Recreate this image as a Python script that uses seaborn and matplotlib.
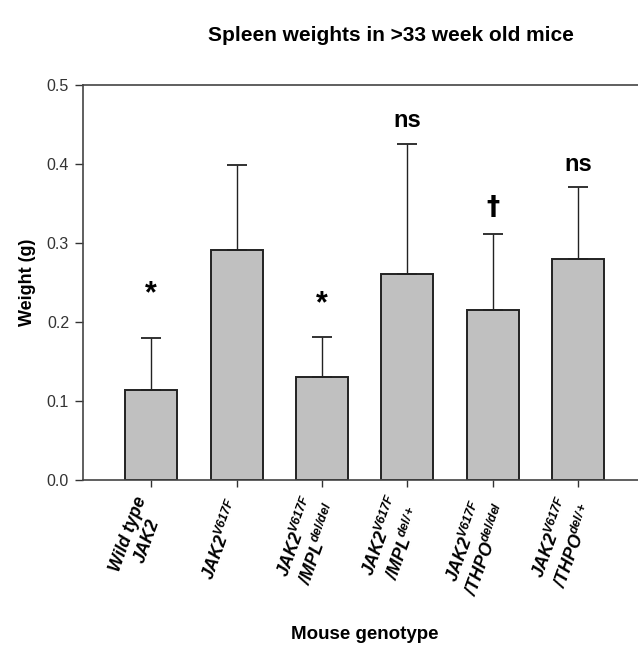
import matplotlib
matplotlib.use("Agg")
import matplotlib.pyplot as plt
import seaborn as sns
import numpy as np
import pandas as pd

genotypes = ["Wild type\nJAK2",
             "JAK2$^{V617F}$",
             "JAK2$^{V617F}$\n/MPL$^{del/del}$",
             "JAK2$^{V617F}$\n/MPL$^{del/+}$",
             "JAK2$^{V617F}$\n/THPO$^{del/del}$",
             "JAK2$^{V617F}$\n/THPO$^{del/+}$"]
mean_weight = [0.114, 0.291, 0.130, 0.261, 0.215, 0.280]
err_top = [0.180, 0.399, 0.181, 0.426, 0.312, 0.371]
sig_labels = ["*", "", "*", "ns", "\u2020", "ns"]
sig_y = [0.235, None, 0.222, 0.455, 0.345, 0.40]

sns.set_style("white")
plt.rcParams['font.family'] = ['Liberation Sans', 'DejaVu Sans']
plt.rcParams['text.color'] = 'black'
plt.rcParams['mathtext.fontset'] = 'custom'
plt.rcParams['mathtext.it'] = 'Liberation Sans:italic:bold'
plt.rcParams['mathtext.rm'] = 'Liberation Sans:italic:bold'
plt.rcParams['mathtext.bf'] = 'Liberation Sans:italic:bold'
plt.rcParams['mathtext.default'] = 'it'

df = pd.DataFrame({"genotype": genotypes, "weight": mean_weight})
fig = plt.figure(figsize=(6.38, 6.51), dpi=100)
ax = fig.add_axes([0.130, 0.263, 0.870, 0.606])
sns.barplot(data=df, x="genotype", y="weight", color="#c0c0c0", edgecolor="#222222",
            linewidth=1.4, width=0.61, saturation=1, ax=ax)
xs = np.arange(len(genotypes))
sd = np.array(err_top) - np.array(mean_weight)
ax.errorbar(xs, mean_weight, yerr=[np.zeros(len(sd)), sd], fmt="none",
            ecolor="#222222", elinewidth=1.0, capsize=7, capthick=1.3, zorder=1)
for x, lab, y in zip(xs, sig_labels, sig_y):
    if not lab:
        continue
    if lab == "*":
        ax.text(x, y, lab, ha="center", va="center", fontsize=22, fontweight="bold", color="black")
    elif lab == "ns":
        ax.text(x, y, lab, ha="center", va="center", fontsize=17, fontweight="bold", color="black")
    else:
        ax.text(x, y, lab, ha="center", va="center", fontsize=19, fontweight="bold", color="black",
                family="DejaVu Sans")

ax.set_xlim(-0.8, 5.7)
ax.set_ylim(0, 0.5)
ax.set_yticks([0.0, 0.1, 0.2, 0.3, 0.4, 0.5])
ax.set_yticklabels(["0.0", "0.1", "0.2", "0.3", "0.4", "0.5"], fontsize=11.5, color="#333333")
ax.set_xticks(xs)
ax.set_xticklabels(genotypes, rotation=70, ha="right", va="center", rotation_mode="anchor",
                   fontsize=12.8, fontweight="bold", fontstyle="italic", multialignment="center",
                   color="black")
ax.tick_params(axis="x", which="major", bottom=True, length=5, width=1.0, color="#333333", pad=10)
ax.tick_params(axis="y", which="major", left=True, length=6, width=1.0, color="#333333", pad=4)
for s in ["left", "bottom", "top"]:
    ax.spines[s].set_visible(True)
    ax.spines[s].set_color("#444444")
    ax.spines[s].set_linewidth(1.2)
ax.spines["right"].set_visible(False)
ax.set_ylabel("Weight (g)", fontsize=13, fontweight="bold", labelpad=8, color="black")
ax.set_xlabel("")
fig.text(0.612, 0.945, "Spleen weights in >33 week old mice", ha="center", va="center",
         fontsize=15, fontweight="bold")
fig.text(0.572, 0.025, "Mouse genotype", ha="center", va="center", fontsize=13.5, fontweight="bold")
fig.savefig("out.png", dpi=100)
